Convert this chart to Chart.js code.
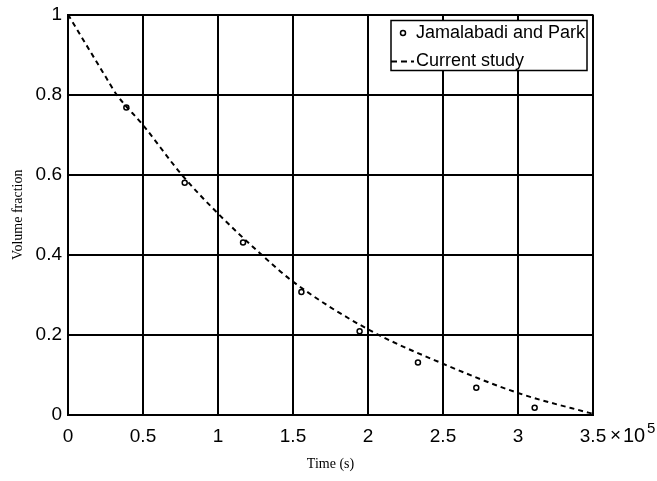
<!DOCTYPE html>
<html>
<head>
<meta charset="utf-8">
<script src="https://cdn.jsdelivr.net/npm/chart.js@4"></script>
<style>
body { margin: 0; background: #fff; }
canvas { display: block; }
</style>
</head>
<body>
<canvas id="chart" width="657" height="481"></canvas>
<script>
// Jamalabadi and Park points (time in s)
const refTime = [38900, 77800, 116700, 155600, 194400, 233300, 272200, 311100];
const refFraction = [0.768, 0.580, 0.431, 0.307, 0.209, 0.131, 0.068, 0.018];

// current study curve
const curveTime = [0, 25000, 32400, 50000, 75800, 100000, 129100, 150000, 200000, 250000, 300000, 346900, 350000];
const curveFraction = [1.0, 0.845, 0.800, 0.724, 0.600, 0.503, 0.400, 0.333, 0.214, 0.128, 0.055, 0.006, 0.003];

const xTickLabels = ["0", "0.5", "1", "1.5", "2", "2.5", "3", "3.5"];
const yTickLabels = ["0", "0.2", "0.4", "0.6", "0.8", "1"];

const sans = "'Liberation Sans', Arial, sans-serif";
const serif = "'Liberation Serif', 'Times New Roman', serif";

const boxLegend = {
  id: "boxLegend",
  afterDraw(chart) {
    const ctx = chart.ctx;
    const area = chart.chartArea;
    const w = 196, h = 50;
    const x0 = area.right - 6 - w, y0 = area.top + 6;
    ctx.save();
    ctx.fillStyle = "#fff";
    ctx.fillRect(x0, y0, w, h);
    ctx.strokeStyle = "#000";
    ctx.lineWidth = 1.5;
    ctx.strokeRect(x0, y0, w, h);

    ctx.font = "18px " + sans;
    ctx.fillStyle = "#000";
    ctx.textBaseline = "middle";

    // scatter entry
    ctx.beginPath();
    ctx.arc(x0 + 12, y0 + 12.5, 2.5, 0, Math.PI * 2);
    ctx.lineWidth = 1.5;
    ctx.stroke();
    ctx.fillText(chart.data.datasets[0].label, x0 + 25, y0 + 13);

    // dashed entry
    ctx.beginPath();
    ctx.setLineDash([6, 4]);
    ctx.lineWidth = 2;
    ctx.moveTo(x0, y0 + 41);
    ctx.lineTo(x0 + 23, y0 + 41);
    ctx.stroke();
    ctx.setLineDash([]);
    ctx.fillText(chart.data.datasets[1].label, x0 + 25, y0 + 40.5);
    ctx.restore();
  }
};

const expLabel = {
  id: "expLabel",
  afterDraw(chart) {
    const ctx = chart.ctx;
    const xs = chart.scales.x;
    const y = xs.top + 21;
    const x = xs.right + 17;
    ctx.save();
    ctx.fillStyle = "#000";
    ctx.textBaseline = "middle";
    ctx.textAlign = "left";
    ctx.font = "19px " + sans;
    ctx.fillText("\u00d7", x, y);
    ctx.font = "20px " + sans;
    ctx.fillText("10", x + 13, y);
    ctx.font = "15px " + sans;
    ctx.fillText("5", x + 37, y - 7);
    ctx.restore();
  }
};

new Chart(document.getElementById("chart"), {
  type: "scatter",
  data: {
    datasets: [{
      label: "Jamalabadi and Park",
      data: refTime.map((t, i) => ({ x: t, y: refFraction[i] })),
      pointRadius: 2.5,
      pointBorderWidth: 1.5,
      pointBorderColor: "#000",
      pointBackgroundColor: "rgba(0,0,0,0)",
      showLine: false
    }, {
      label: "Current study",
      data: curveTime.map((t, i) => ({ x: t, y: curveFraction[i] })),
      showLine: true,
      borderColor: "#000",
      borderWidth: 2,
      borderDash: [5, 4],
      pointRadius: 0,
      cubicInterpolationMode: "monotone"
    }]
  },
  options: {
    responsive: false,
    animation: false,
    devicePixelRatio: 1,
    layout: { padding: { top: 14.5, right: 64, left: 0, bottom: 0 } },
    plugins: {
      legend: { display: false },
      tooltip: { enabled: false }
    },
    scales: {
      x: {
        type: "linear",
        min: 0,
        max: 350000,
        afterFit: s => { s.height = 66; s.paddingLeft = 0; s.paddingRight = 0; },
        ticks: {
          stepSize: 50000,
          color: "#000",
          padding: 10,
          maxRotation: 0,
          font: { family: sans, size: 19 },
          callback: v => xTickLabels[Math.round(v / 50000)]
        },
        grid: { color: "#000", lineWidth: 2, drawTicks: false },
        border: { color: "#000", width: 2 },
        title: {
          display: true,
          text: "Time (s)",
          color: "#000",
          font: { family: serif, size: 14 },
          padding: { top: 0, bottom: 8 }
        }
      },
      y: {
        min: 0,
        max: 1,
        afterFit: s => { s.width = 68; s.paddingTop = 0; s.paddingBottom = 0; },
        ticks: {
          stepSize: 0.2,
          color: "#000",
          padding: 6,
          font: { family: sans, size: 19 },
          callback: v => yTickLabels[Math.round(v / 0.2)]
        },
        grid: { color: "#000", lineWidth: 2, drawTicks: false },
        border: { color: "#000", width: 2 },
        title: {
          display: true,
          text: "Volume fraction",
          color: "#000",
          font: { family: serif, size: 14 },
          padding: { top: 10, bottom: 0 }
        }
      }
    }
  },
  plugins: [boxLegend, expLabel]
});
</script>
</body>
</html>
